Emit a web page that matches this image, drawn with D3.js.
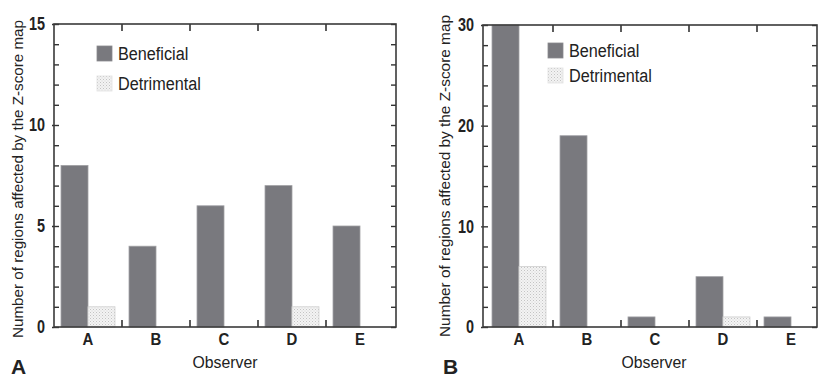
<!DOCTYPE html>
<html>
<head>
<meta charset="utf-8">
<script src="https://cdn.jsdelivr.net/npm/d3@7"></script>
<style>
  body { margin: 0; background: #fff; }
  svg { display: block; }
  text { font-family: "Liberation Sans", Arial, sans-serif; fill: #222; }
</style>
</head>
<body>
<svg id="chart" width="818" height="377"></svg>
<script>
// data
var observers = ["A", "B", "C", "D", "E"];
var seriesNames = ["Beneficial", "Detrimental"];
var beneficialA = [8, 4, 6, 7, 5];
var detrimentalA = [1, 0, 0, 1, 0];
var beneficialB = [30, 19, 1, 5, 1];
var detrimentalB = [6, 0, 0, 1, 0];
var yTicksA = [0, 5, 10, 15];
var yTicksB = [0, 10, 20, 30];

var svg = d3.select("#chart");

var defs = svg.append("defs");
var pat = defs.append("pattern")
    .attr("id", "dots")
    .attr("width", 3).attr("height", 3)
    .attr("patternUnits", "userSpaceOnUse");
pat.append("rect").attr("width", 3).attr("height", 3).attr("fill", "#f3f3f3");
pat.append("rect").attr("x", 0).attr("y", 0).attr("width", 1).attr("height", 1).attr("fill", "#c4c4c4");
pat.append("rect").attr("x", 1.5).attr("y", 1.5).attr("width", 1).attr("height", 1).attr("fill", "#d4d4d4");

var fills = {"Beneficial": "#79797e", "Detrimental": "url(#dots)"};

// squeeze text so it looks like the condensed face of the original
function narrow(sel, k) {
    sel.each(function() {
        var w = this.getComputedTextLength();
        d3.select(this).attr("textLength", w * k).attr("lengthAdjust", "spacingAndGlyphs");
    });
}

function drawPanel(opt) {
    var g = svg.append("g");
    var x = d3.scaleBand().domain(observers).range([opt.x0, opt.x0 + 340]).padding(0);
    var xs = d3.scaleBand().domain(seriesNames).range([0, x.bandwidth()])
        .paddingInner(0).paddingOuter(0.26);
    var y = d3.scaleLinear().domain([0, opt.yMax]).range([327, opt.top]);

    var rows = observers.map(function(o, i) {
        return {obs: o, vals: [
            {name: "Beneficial", v: opt.ben[i]},
            {name: "Detrimental", v: opt.det[i]}
        ]};
    });

    // bars
    var grp = g.selectAll(".grp").data(rows).enter().append("g")
        .attr("transform", function(d) { return "translate(" + x(d.obs) + ",0)"; });
    grp.selectAll("rect").data(function(d) { return d.vals.filter(function(e) { return e.v > 0; }); })
        .enter().append("rect")
        .attr("x", function(d) { return xs(d.name); })
        .attr("width", xs.bandwidth())
        .attr("y", function(d) { return y(d.v); })
        .attr("height", function(d) { return y(0) - y(d.v); })
        .attr("fill", function(d) { return fills[d.name]; })
        .attr("stroke", function(d) { return d.name == "Beneficial" ? "#a0a0a4" : "#cfcfcf"; })
        .attr("stroke-width", 0.8);

    var left = opt.frameL, right = opt.frameR;

    // y minor ticks, both sides, inside
    var minor = d3.range(0, opt.yMax + 0.01, opt.minorStep);
    g.append("g").attr("transform", "translate(" + left + ",0)")
        .call(d3.axisLeft(y).tickValues(minor).tickSizeInner(-5).tickSizeOuter(0).tickFormat(""))
        .call(function(a) { a.select(".domain").remove(); a.selectAll("line").attr("stroke", "#333").attr("stroke-width", 1.4); });
    g.append("g").attr("transform", "translate(" + right + ",0)")
        .call(d3.axisRight(y).tickValues(minor).tickSizeInner(-5).tickSizeOuter(0).tickFormat(""))
        .call(function(a) { a.select(".domain").remove(); a.selectAll("line").attr("stroke", "#333").attr("stroke-width", 1.4); });

    // y major labels, ticks poke through the frame a little
    g.append("g").attr("transform", "translate(" + left + ",0)")
        .call(d3.axisLeft(y).tickValues(opt.yTicks).tickSizeInner(2).tickSizeOuter(0).tickPadding(7))
        .call(function(a) {
            a.select(".domain").remove();
            a.selectAll("line").attr("stroke", "#333").attr("stroke-width", 1.4);
            a.selectAll("text").style("font-size", "18px").style("font-weight", "bold")
                .attr("fill", "#2a2a2a")
                .call(narrow, 0.8);
        });

    // x ticks at band boundaries, bottom and top
    var bounds = observers.slice(1).map(function(o) { return x(o); });
    g.selectAll(".xtb").data(bounds).enter().append("line")
        .attr("x1", function(d) { return d; }).attr("x2", function(d) { return d; })
        .attr("y1", 327).attr("y2", 320).attr("stroke", "#333").attr("stroke-width", 1.6);
    g.selectAll(".xtt").data(bounds).enter().append("line")
        .attr("x1", function(d) { return d; }).attr("x2", function(d) { return d; })
        .attr("y1", opt.top).attr("y2", opt.top + 7).attr("stroke", "#333").attr("stroke-width", 1.6);

    // category labels
    g.append("g").attr("transform", "translate(0,327)")
        .call(d3.axisBottom(x).tickSize(0).tickPadding(6))
        .call(function(a) {
            a.select(".domain").remove();
            a.selectAll("text").style("font-size", "17px").style("font-weight", "bold")
                .attr("fill", "#2a2a2a")
                .call(narrow, 0.88);
        });

    // frame
    g.append("rect")
        .attr("x", left).attr("y", opt.top)
        .attr("width", right - left).attr("height", 327 - opt.top)
        .attr("fill", "none").attr("stroke", "#3a3a3a").attr("stroke-width", 1.6);

    // axis titles
    g.append("text")
        .attr("transform", "translate(" + opt.ylabX + "," + opt.ylabY + ") rotate(-90)")
        .attr("text-anchor", "middle")
        .style("font-size", "15px")
        .attr("textLength", opt.ylabLen).attr("lengthAdjust", "spacingAndGlyphs")
        .text("Number of regions affected by the Z-score map");
    g.append("text")
        .attr("x", (left + right) / 2 - (opt.obsShift || 0)).attr("y", 368)
        .attr("text-anchor", "middle")
        .style("font-size", "17px")
        .text("Observer")
        .call(narrow, 0.93);

    // panel letter
    g.append("text")
        .attr("x", opt.letterX).attr("y", 374)
        .style("font-size", "21px").style("font-weight", "bold")
        .attr("fill", "#111")
        .text(opt.letter);

    // legend
    var leg = g.selectAll(".leg").data(seriesNames).enter().append("g")
        .attr("transform", function(d, i) { return "translate(" + opt.legX + "," + (opt.legY + i * opt.legGap) + ")"; });
    leg.append("rect").attr("width", 15).attr("height", 15)
        .attr("fill", function(d) { return fills[d]; })
        .attr("stroke", function(d) { return d == "Beneficial" ? "#8a8a8e" : "#e0e0e0"; })
        .attr("stroke-width", 0.8);
    leg.append("text").attr("x", 21).attr("y", 14)
        .style("font-size", "18px")
        .text(function(d) { return d; })
        .call(narrow, 0.9);
}

drawPanel({x0: 54, frameL: 54, frameR: 396, top: 24, yMax: 15, minorStep: 1, yTicks: yTicksA,
    ben: beneficialA, det: detrimentalA, ylabX: 23, ylabY: 179, ylabLen: 318, letter: "A", letterX: 11,
    legX: 97, legY: 46, legGap: 30, obsShift: 0});
drawPanel({x0: 485, frameL: 483, frameR: 817, top: 25, yMax: 30, minorStep: 2, yTicks: yTicksB,
    ben: beneficialB, det: detrimentalB, ylabX: 450, ylabY: 176, ylabLen: 322, letter: "B", letterX: 443,
    legX: 548, legY: 43, legGap: 25, obsShift: -4});
</script>
</body>
</html>
